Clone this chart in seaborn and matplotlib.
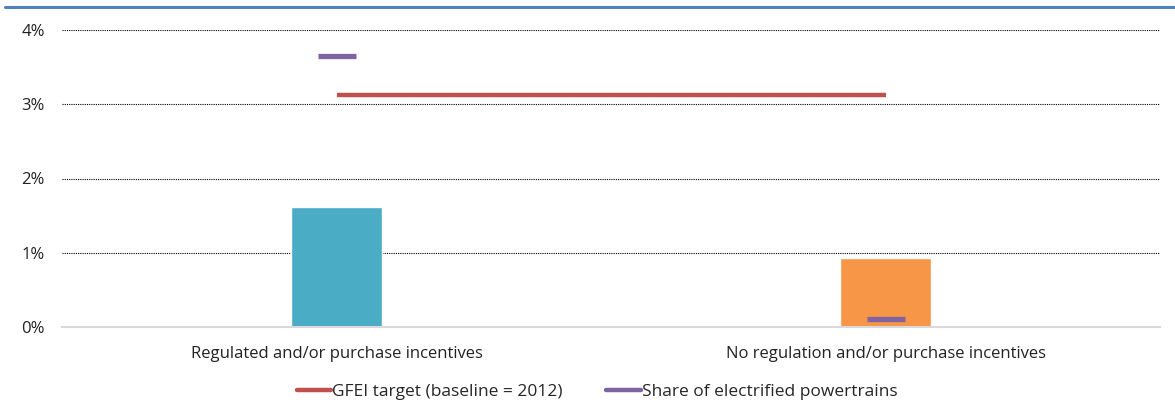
import matplotlib
matplotlib.use("Agg")
import matplotlib.pyplot as plt
from matplotlib.lines import Line2D
from matplotlib.ticker import FuncFormatter
import seaborn as sns
import pandas as pd

# Data (percent)
categories = ["Regulated and/or purchase incentives", "No regulation and/or purchase incentives"]
bar_values = [1.62, 0.93]
gfei_target = [3.12, 3.12]
electrified_share = [3.65, 0.11]
ytick_values = [0, 1, 2, 3, 4]

bar_colors = ["#4BACC6", "#F79646"]
red = "#C0504D"
purple = "#8064A2"

sns.set_theme(style="white")
plt.rcParams["font.family"] = ["Open Sans", "DejaVu Sans"]

fig = plt.figure(figsize=(11.75, 4.03), dpi=100)
ax = fig.add_axes([62 / 1175, 1 - 327 / 403, (1160 - 62) / 1175, (327 - 30) / 403])

df = pd.DataFrame({"category": categories, "value": bar_values})
sns.barplot(data=df, x="category", y="value", hue="category",
            palette=bar_colors, width=0.166, legend=False, ax=ax,
            saturation=1, zorder=2)

pos = list(range(len(categories)))
sns.lineplot(x=pos, y=gfei_target, color=red, linewidth=3.2, ax=ax,
             zorder=3, solid_capstyle="butt")
ax.plot(pos, electrified_share, linestyle="none", marker="_",
        markersize=27.5, markeredgewidth=3.8, color=purple, zorder=4)

ax.set_xlim(-0.5, 1.5)
ax.set_ylim(0, 4)
ax.set_yticks(ytick_values)
ax.yaxis.set_major_formatter(FuncFormatter(lambda v, p: f"{v:.0f}%"))
ax.set_xlabel("")
ax.set_ylabel("")

ax.set_axisbelow(True)
ax.yaxis.grid(True, linestyle=(0, (1, 1)), color="black", linewidth=0.8)
ax.xaxis.grid(False)
for side in ["left", "right", "top"]:
    ax.spines[side].set_visible(False)
ax.spines["bottom"].set_color("#D9D9D9")
ax.spines["bottom"].set_linewidth(1.5)
ax.tick_params(axis="both", length=0, labelsize=12, colors="#222222")
ax.tick_params(axis="y", pad=12.5)
ax.tick_params(axis="x", pad=14)

handles = [Line2D([], [], color=red, linewidth=3.2),
           Line2D([], [], color=purple, linewidth=3.2)]
fig.legend(handles, ["GFEI target (baseline = 2012)", "Share of electrified powertrains"],
           loc="center", bbox_to_anchor=(597 / 1175, 1 - 392 / 403), ncol=2,
           frameon=False, fontsize=12.5, handlelength=2.0, handletextpad=0.05,
           columnspacing=2.5)

# Top rule
fig.add_artist(Line2D([5 / 1175, 1.0], [1 - 7 / 403, 1 - 7 / 403],
                      color="#4F81BD", linewidth=2.2, transform=fig.transFigure))

fig.savefig("out.png", dpi=100, facecolor="white")
